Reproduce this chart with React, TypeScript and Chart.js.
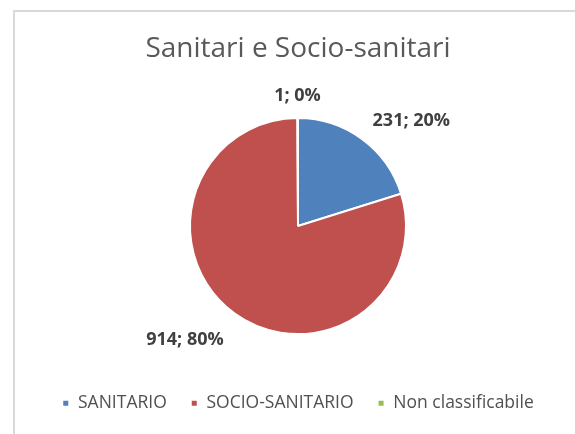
import React, { useEffect, useRef } from "react";
import { Chart, registerables } from "chart.js";

Chart.register(...registerables);

const chartTitle = "Sanitari e Socio-sanitari";
const categories = ["SANITARIO", "SOCIO-SANITARIO", "Non classificabile"];
const values = [231, 914, 1];
const colors = ["#4F81BD", "#C0504D", "#9BBB59"];

const FONT = "'Open Sans', 'DejaVu Sans', sans-serif";

const framePlugin = {
  id: "frame",
  beforeDraw(chart: any) {
    const ctx = chart.ctx;
    ctx.save();
    ctx.fillStyle = "#ffffff";
    ctx.fillRect(0, 0, chart.width, chart.height);
    ctx.strokeStyle = "#d9d9d9";
    ctx.lineWidth = 2;
    ctx.beginPath();
    ctx.moveTo(14, chart.height);
    ctx.lineTo(14, 11);
    ctx.lineTo(chart.width, 11);
    ctx.stroke();
    ctx.restore();
  },
};

const labelPlugin = {
  id: "sliceLabels",
  afterDatasetsDraw(chart: any) {
    const ctx = chart.ctx;
    const meta = chart.getDatasetMeta(0);
    const data = chart.data.datasets[0].data as number[];
    const total = data.reduce((a, b) => a + b, 0);
    ctx.save();
    ctx.font = `bold 18px ${FONT}`;
    ctx.fillStyle = "#404040";
    ctx.textAlign = "center";
    ctx.textBaseline = "middle";
    meta.data.forEach((arc: any, i: number) => {
      const { x, y, startAngle, endAngle, outerRadius } = arc.getProps(
        ["x", "y", "startAngle", "endAngle", "outerRadius"],
        true
      );
      const mid = (startAngle + endAngle) / 2;
      const ux = Math.cos(mid);
      const uy = Math.sin(mid);
      const text = `${data[i]}; ${Math.round((data[i] / total) * 100)}%`;
      const w = ctx.measureText(text).width;
      const d = outerRadius + 18;
      const clamp = (v: number) => Math.max(-1, Math.min(1, v));
      const px = x + ux * d + clamp(ux / 0.3) * (w / 2);
      const py = y + uy * d + clamp(uy / 0.3) * 8 + 4;
      ctx.fillText(text, px, py);
    });
    ctx.restore();
  },
};

export default function App() {
  const ref = useRef<HTMLCanvasElement | null>(null);

  useEffect(() => {
    if (!ref.current) return;
    const chart = new Chart(ref.current, {
      type: "pie",
      data: {
        labels: categories,
        datasets: [
          {
            data: values,
            backgroundColor: colors,
            borderColor: "#ffffff",
            borderWidth: 2,
            radius: 108,
          } as any,
        ],
      },
      options: {
        animation: false,
        responsive: false,
        layout: { padding: { left: 21, right: 0, top: 0, bottom: 12 } },
        plugins: {
          title: {
            display: true,
            text: chartTitle,
            color: "#595959",
            font: { family: FONT, size: 28, weight: "normal" as any },
            padding: { top: 32, bottom: 16 },
          },
          legend: {
            position: "bottom",
            labels: {
              boxWidth: 7,
              boxHeight: 7,
              padding: 24,
              color: "#505050",
              font: { family: FONT, size: 17.5 },
            },
          },
          tooltip: { enabled: false },
        },
      },
      plugins: [framePlugin, labelPlugin],
    });
    return () => chart.destroy();
  }, []);

  return (
    <div style={{ position: "absolute", left: 0, top: 0, width: 575, height: 434 }}>
      <canvas ref={ref} width={575} height={434} />
    </div>
  );
}
